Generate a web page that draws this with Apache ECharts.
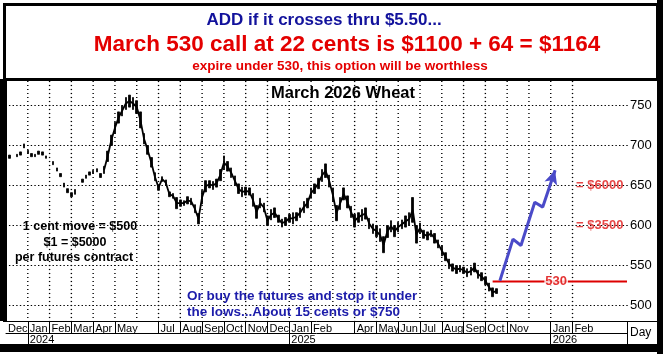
<!DOCTYPE html>
<html>
<head>
<meta charset="utf-8">
<script src="https://cdn.jsdelivr.net/npm/echarts@6/dist/echarts.min.js"></script>
<style>
html, body { margin: 0; padding: 0; background: #fff; }
#chart { width: 663px; height: 354px; }
</style>
</head>
<body>
<div id="chart"></div>
<script>
// one slot ~ 3.6 trading days, 6 slots per month, Dec 2023 .. Apr 2026
const slotCount = 172
const monthNames = ['Dec', 'Jan', 'Feb', 'Mar', 'Apr', 'May', '', 'Jul', 'Aug', 'Sep', 'Oct', 'Nov', 'Dec',
  'Jan', 'Feb', '', 'Apr', 'May', 'Jun', 'Jul', 'Aug', 'Sep', 'Oct', 'Nov', '',
  'Jan', 'Feb', '', '']
const yearLabels = { 6: '2024', 78: '2025', 150: '2026' }
const priceTicks = [500, 550, 600, 650, 700, 750]
const priceMin = 480
const priceMax = 780

// March 2026 wheat, low / high per slot (cents), null = no trade
const lows = [685, 684, null, 686, 688, 697, 690, 686, 686, 689, 688, 684, null, 676, 668, 661, 648, 641, 636, 639,
  null, 654, 659, 663, 665, 667, 660, 665, 680, 700, 715, 728, 737, 745, 748, 745, 740, 722, 702, 689,
  673, 656, 644, 655, 650, 636, 634, 621, 624, 625, 627, 626, 616, 602, 627, 642, 647, 645, 648, 656,
  670, 668, 660, 650, 640, 636, 638, 638, 624, 609, 622, 617, 600, 607, 610, 604, 598, 600, 604, 602,
  606, 610, 616, 622, 634, 640, 646, 655, 660, 648, 630, 606, 620, 632, 622, 610, 598, 604, 606, 608,
  596, 590, 586, 580, 566, 585, 592, 586, 592, 596, 598, 600, 604, 578, 590, 584, 582, 586, 578, 572,
  562, 556, 546, 543, 540, 542, 540, 536, 538, 542, 534, 531, 526, 518, 511, 515]
const highs = [690, 688, null, 689, 692, 702, 694, 690, 689, 693, 692, 687, null, 680, 672, 665, 653, 646, 641, 645,
  null, 658, 663, 667, 669, 671, 665, 674, 693, 713, 729, 742, 750, 760, 763, 760, 756, 742, 715, 700,
  685, 666, 651, 661, 657, 642, 640, 635, 632, 631, 636, 634, 626, 615, 644, 656, 656, 655, 658, 670,
  687, 680, 672, 662, 652, 648, 648, 647, 640, 625, 634, 628, 612, 620, 622, 613, 608, 610, 614, 616,
  616, 622, 630, 634, 647, 652, 659, 670, 677, 663, 647, 625, 635, 647, 637, 624, 614, 616, 620, 622,
  609, 602, 600, 596, 586, 600, 606, 600, 604, 607, 612, 616, 635, 600, 603, 594, 592, 594, 590, 582,
  575, 566, 558, 552, 550, 550, 548, 546, 548, 553, 544, 541, 536, 528, 522, 521]
// from here on the contract trades every day (drawn as a joined line)
const denseFrom = 27

// projected path (blue arrow) and the 530 strike
const arrowX = [136, 139.6, 141.8, 145.6, 147.8, 151.2]
const arrowY = [531, 583, 575, 629, 623, 669]
const strike = 530
const strikeFrom = 134
const payoffLabels = [{ price: 650, text: '= $6000' }, { price: 600, text: '= $3500' }]

const slots = []
for (let i = 0; i < slotCount; i++) slots.push(String(i))

const isMonth = i => i % 6 === 0
const monthLabel = i => isMonth(i) ? (monthNames[i / 6] || '') : ''
const gridSlots = []
for (let i = 6; i <= 156; i += 6) gridSlots.push(i)

const mids = lows.map((lo, i) => (lo == null || i < denseFrom) ? null : (lo + highs[i]) / 2)

// dotted grid as rows of tiny dots (one per slot across, one per 5 cents down)
const hDots = []
priceTicks.forEach(v => { for (let s = 0; s < slotCount; s++) hDots.push([s, v]) })
const vDots = []
gridSlots.forEach(s => { for (let p = priceMin; p <= priceMax; p += 5) vDots.push([s, p]) })

const font = 'Liberation Sans, Arial, sans-serif'
function txt(text, x, y, size, color, align, bold) {
  return {
    type: 'text', z: 120, silent: true,
    style: {
      text: text, x: x, y: y,
      font: (bold === false ? '' : 'bold ') + size + 'px ' + font,
      fill: color,
      textAlign: align || 'center', align: align || 'center',
      textVerticalAlign: 'middle', verticalAlign: 'middle'
    }
  }
}
function box(x, y, w, h) {
  return { type: 'rect', z: 110, silent: true, shape: { x: x, y: y, width: w, height: h }, style: { fill: '#000' } }
}
function seg(x1, y1, x2, y2) {
  return { type: 'line', z: 110, silent: true, shape: { x1: x1, y1: y1, x2: x2, y2: y2 }, style: { stroke: '#000', lineWidth: 1 } }
}

const arrowData = arrowX.map((x, i) => [x, arrowY[i]])
const last = arrowData.length - 1
arrowData[last] = { value: arrowData[last], symbol: 'arrow', symbolSize: [10, 14], symbolRotate: -18 }

function dotSeries(data, size) {
  return {
    type: 'scatter', xAxisIndex: 2, silent: true, z: 1,
    symbol: 'rect', symbolSize: size,
    data: data,
    itemStyle: { color: '#000', opacity: 1 },
    emphasis: { disabled: true }
  }
}

const chart = echarts.init(document.getElementById('chart'), null, { renderer: 'canvas' })
const option = {
  animation: false,
  backgroundColor: '#fff',
  grid: { left: 6, right: 36, top: 81.5, bottom: 32.5 },
  xAxis: [{
    type: 'category',
    data: slots,
    boundaryGap: false,
    axisLine: { show: true, lineStyle: { color: '#000', width: 1 } },
    axisTick: { show: true, length: 12, interval: (i) => i > 0 && monthLabel(i) !== '', lineStyle: { color: '#000' } },
    axisLabel: {
      interval: (i) => monthLabel(i) !== '',
      formatter: (v, i) => monthLabel(i),
      align: 'left', padding: [0, 0, 0, 2], margin: 2, verticalAlign: 'top',
      color: '#000', fontSize: 11, fontFamily: font
    },
    splitLine: { show: false }
  }, {
    type: 'category',
    data: slots,
    boundaryGap: false,
    position: 'bottom',
    offset: 12,
    axisLine: { show: true, lineStyle: { color: '#000', width: 1 } },
    axisTick: { show: true, length: 11, interval: (i) => yearLabels[i] != null, lineStyle: { color: '#000' } },
    axisLabel: {
      interval: (i) => yearLabels[i] != null,
      formatter: (v, i) => yearLabels[i] || '',
      align: 'left', padding: [0, 0, 0, 2], margin: 1, verticalAlign: 'top',
      color: '#000', fontSize: 11, fontFamily: font
    },
    splitLine: { show: false }
  }, {
    type: 'value', min: 0, max: slotCount - 1, show: false
  }],
  yAxis: {
    type: 'value', position: 'right', min: priceMin, max: priceMax, interval: 10,
    axisLine: { show: true, lineStyle: { color: '#000', width: 1 } },
    axisTick: { show: true, inside: true, length: 3, lineStyle: { color: '#000' } },
    axisLabel: { formatter: (v) => v % 50 === 0 ? String(v) : '', color: '#000', fontSize: 13, margin: 3, fontFamily: font },
    splitLine: { show: false }
  },
  series: [
    dotSeries(hDots, [1.4, 1]),
    dotSeries(vDots, [1.4, 1.2]),
    {
      type: 'candlestick',
      xAxisIndex: 0,
      barWidth: 2,
      data: lows.map((lo, i) => lo == null ? '-' : [lo, highs[i], lo, highs[i]]),
      itemStyle: { color: '#000', color0: '#000', borderColor: '#000', borderColor0: '#000', borderWidth: 0.8 },
      z: 3
    }, {
      type: 'line',
      xAxisIndex: 0,
      symbol: 'none',
      data: mids,
      connectNulls: false,
      lineStyle: { color: '#000', width: 1.8 },
      z: 3
    }, {
      type: 'line',
      xAxisIndex: 2,
      symbol: 'none',
      data: [[strikeFrom, strike], [slotCount - 1, strike]],
      lineStyle: { color: '#dd0000', width: 2 },
      z: 4
    }, {
      type: 'scatter',
      xAxisIndex: 2,
      symbolSize: 0,
      data: [[151.5, strike]],
      label: { show: true, position: 'inside', formatter: String(strike), color: '#dd0000', fontWeight: 'bold', fontSize: 13, fontFamily: font, backgroundColor: '#fff', padding: [0, 1] },
      z: 5
    }, {
      type: 'scatter',
      xAxisIndex: 2,
      symbolSize: 0,
      data: payoffLabels.map(p => ({ value: [170, p.price], name: p.text })),
      label: { show: true, position: 'left', distance: 0, formatter: (p) => p.name, color: '#e01818', fontWeight: 'bold', fontSize: 13, fontFamily: font },
      z: 5
    }, {
      type: 'line',
      xAxisIndex: 2,
      symbol: 'none',
      data: arrowData,
      lineStyle: { color: '#4a4ac8', width: 3 },
      itemStyle: { color: '#4a4ac8' },
      z: 6
    }
  ],
  graphic: [
    // frame
    { type: 'rect', z: 110, silent: true, shape: { x: 4.5, y: 4.5, width: 653, height: 75 }, style: { fill: null, stroke: '#000', lineWidth: 3 } },
    box(0, 79, 7, 242),
    box(657, 0, 6, 354),
    box(0, 344, 663, 8),
    seg(627.5, 321, 627.5, 344),
    seg(627, 321.5, 657, 321.5),
    // header
    txt('ADD if it crosses thru $5.50...', 324, 20, 17, '#12129c'),
    txt('March 530 call at 22 cents is $1100 + 64 = $1164', 347, 45, 22.5, '#e40000'),
    txt('expire under 530, this option will be worthless', 340, 66, 13.5, '#e40000'),
    // chart texts
    txt('March 2026 Wheat', 343, 93, 16.5, '#000'),
    txt('1 cent move = $500', 80, 227, 12.5, '#000'),
    txt('$1 = $5000', 75, 243, 12.5, '#000'),
    txt('per futures contract', 74, 258, 12.5, '#000'),
    txt('Or buy the futures and stop it under', 187, 296, 13.5, '#1c1caa', 'left'),
    txt('the lows...About 15 cents or $750', 187, 312, 13.5, '#1c1caa', 'left'),
    txt('Day', 630, 333, 12, '#000', 'left', false)
  ]
}
chart.setOption(option)
</script>
</body>
</html>
